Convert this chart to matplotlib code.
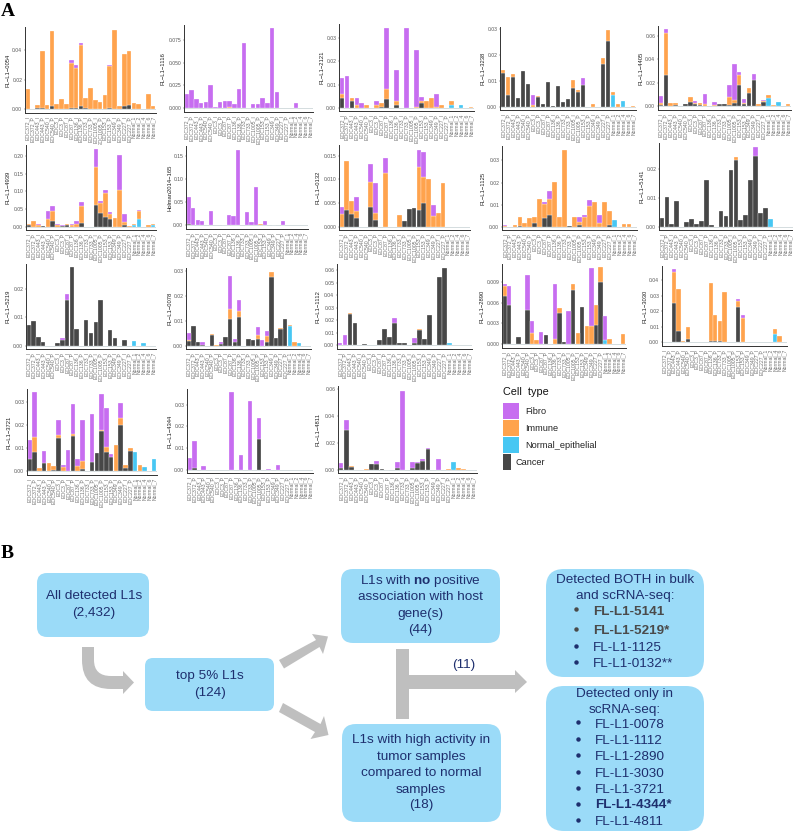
import matplotlib
matplotlib.use('Agg')
import matplotlib.pyplot as plt
import numpy as np
from matplotlib.patches import FancyBboxPatch, Polygon, PathPatch, Rectangle
from matplotlib.path import Path

plt.rcParams['font.family'] = ['Liberation Sans', 'DejaVu Sans']
plt.rcParams['mathtext.fontset'] = 'custom'
plt.rcParams['mathtext.bf'] = 'Liberation Sans:bold'
plt.rcParams['mathtext.rm'] = 'Liberation Sans'

W, H = 793, 833

# samples on every x axis
samples = ["EOC372_I", "EOC372_P", "EOC443_I", "EOC443_P", "EOC540_I", "EOC540_P", "EOC3_I", "EOC3_P",
           "EOC87_I", "EOC87_P", "EOC136_I", "EOC136_P", "EOC733_I", "EOC733_P", "EOC1005_I", "EOC1005_P",
           "EOC153_I", "EOC153_P", "EOC349_I", "EOC349_P", "EOC227_I", "EOC227_P",
           "Normal_1", "Normal_2", "Normal_4", "Normal_6", "Normal_7"]
cell_types = ["Fibro", "Immune", "Normal_epithelial", "Cancer"]
cell_colors = ["#C76DF0", "#FFA34D", "#47C7F3", "#474747"]

# segment heights, one list per L1 and cell type
cancer_0054 = [0, .0005, .001, .0007, 0, .002, 0, 0, 0, .0012, .0006, .0022, .0008, 0, 0, .0005, 0, .0009, 0, 0, .0021, .0028, 0, 0, 0, 0, 0]
immune_0054 = [.0135, 0, .002, .0386, .003, .0506, .0033, .0068, .0038, .0303, .0274, .0412, .0067, .0144, .0063, .0045, .0098, .0286, .0533, .0023, .0352, .0367, .0041, .0037, 0, .0103, .0019]
fibro_0054 = [0, 0, 0, 0, 0, 0, 0, 0, 0, .0015, .002, .0016, 0, 0, 0, 0, 0, .0005, 0, 0, 0, 0, 0, 0, 0, 0, 0]
normal_0054 = [0] * 27

cancer_1116 = [0] * 27
immune_1116 = [0, 0, 0, 0, 0, 0, 0, 0, 0, .001, 0, 0, 0, 0, 0, 0, 0, 0, 0, 0, 0, 0, 0, 0, 0, 0, 0]
fibro_1116 = [.0155, .02, .0095, .005, .007, .025, .001, .0065, .0078, .0063, .0047, .0215, .072, .0005, .0047, .0047, .0107, .0058, .088, .018, 0, 0, 0, .0058, 0, 0, 0]
normal_1116 = [0] * 27

cancer_2121 = [.0042, 0, .003, 0, 0, 0, 0, 0, .0007, .004, 0, .0016, 0, 0, 0, 0, .0023, 0, 0, 0, 0, 0, 0, 0, 0, 0, 0]
immune_2121 = [.0019, 0, .0012, .0012, 0, .0012, .0003, .0013, .0017, .0042, 0, .0016, 0, 0, 0, .0006, .0007, .003, .0044, .0005, .0013, 0, .0018, 0, 0, 0, .0004]
fibro_2121 = [.0068, .0136, 0, .003, .0021, 0, 0, .0019, 0, .0259, 0, .0129, 0, .034, 0, .0242, .0016, 0, 0, .0057, 0, 0, 0, 0, 0, 0, .0003]
normal_2121 = [0, 0, 0, 0, 0, 0, 0, 0, 0, 0, 0, 0, 0, 0, 0, 0, 0, 0, 0, 0, 0, 0, .0012, 0, .0013, 0, 0]

cancer_3238 = [.0133, .0048, .0117, .0036, .014, .0088, 0, .0039, .0012, .0098, .0003, .0082, .0018, .0031, .0073, .0058, .0085, 0, 0, 0, .0166, .0256, 0, 0, 0, 0, 0]
immune_3238 = [.0011, .0069, .001, 0, 0, 0, .0007, .0004, 0, 0, 0, 0, 0, 0, .0031, .0006, 0, 0, .001, 0, .0022, .004, .0011, .0012, 0, 0, .0005]
fibro_3238 = [0, 0, 0, 0, 0, 0, .0039, 0, 0, 0, 0, 0, 0, 0, 0, 0, .0027, 0, 0, 0, 0, 0, 0, 0, 0, 0, 0]
normal_3238 = [0, 0, 0, 0, 0, 0, 0, 0, 0, 0, 0, 0, 0, 0, 0, 0, 0, 0, 0, 0, 0, 0, .0046, 0, .0025, 0, 0]

cancer_4405 = [.001, .0263, 0, .001, 0, .002, .0037, .002, .001, 0, 0, 0, .0018, .0018, .001, .0028, .018, .0021, .0116, .0223, 0, .0034, 0, 0, 0, 0, 0]
immune_4405 = [.0018, .0362, .0025, .0016, 0, 0, .0039, .0005, .0015, .0017, 0, .0015, .0004, 0, .0066, .0028, .009, .0008, .0037, 0, .002, .0009, .0031, .001, 0, 0, .002]
fibro_4405 = [.0057, .0032, 0, 0, 0, 0, 0, .0018, 0, .0088, 0, .0025, 0, 0, .0102, .0304, .0022, .0033, 0, .0052, 0, .0009, 0, 0, 0, 0, 0]
normal_4405 = [0, 0, 0, 0, 0, 0, 0, 0, 0, 0, 0, 0, 0, 0, 0, 0, 0, 0, 0, 0, 0, 0, .0068, 0, .0035, 0, 0]

cancer_4939 = [.005, 0, 0, .001, 0, .016, 0, .001, .006, 0, 0, .01, 0, 0, .06, .04, .027, .021, 0, 0, .005, 0, 0, 0, 0, 0, 0]
immune_4939 = [.004, .015, .006, 0, .021, .029, .004, 0, .002, .005, .009, .049, 0, 0, .11, .028, .068, .015, .025, .104, .007, .002, .004, .023, 0, .006, .004]
fibro_4939 = [0, 0, .002, 0, .024, .014, .003, .004, 0, .002, .008, .011, 0, 0, .049, .004, .008, .006, 0, .098, .024, 0, 0, .004, 0, 0, 0]
normal_4939 = [0, 0, 0, 0, 0, 0, 0, 0, 0, 0, 0, 0, 0, 0, 0, 0, 0, 0, 0, 0, 0, 0, .004, .021, 0, 0, .004]

cancer_holman = [.003, 0, 0, 0, 0, 0, 0, 0, 0, 0, 0, 0, 0, 0, 0, 0, 0, 0, 0, 0, 0, 0, 0, 0, 0, 0, 0]
immune_holman = [0, 0, 0, 0, 0, 0, 0, 0, 0, 0, .001, .001, 0, 0, 0, 0, .003, 0, 0, 0, 0, .001, 0, 0, 0, 0, 0]
fibro_holman = [.059, .038, .012, .0095, 0, .0316, 0, 0, .001, .0215, .019, .1605, 0, .029, .0075, .082, 0, .01, 0, .001, 0, .009, 0, 0, 0, 0, 0]
normal_holman = [0] * 27

cancer_0132 = [0, .0036, .0027, .0018, 0, 0, .0041, .0014, 0, 0, 0, 0, 0, .0011, .0038, .0039, .0035, .005, 0, 0, 0, 0, 0, 0, 0, 0, 0]
immune_0132 = [.0027, .0102, .0027, .0016, 0, 0, .0053, .0016, 0, .0114, 0, 0, .0025, 0, 0, 0, .0092, .0054, .0101, .0023, .0029, .0092, 0, 0, 0, 0, 0]
fibro_0132 = [.0014, 0, 0, .0028, 0, 0, .0039, .0062, 0, .0032, 0, 0, 0, 0, 0, 0, .0036, .0054, 0, .0023, 0, 0, 0, 0, 0, 0, 0]
normal_0132 = [0] * 27

cancer_1125 = [0, 0, 0, .0005, 0, 0, .0018, 0, .0041, .0054, 0, 0, 0, .0005, 0, .0007, 0, 0, 0, 0, 0, .001, 0, 0, 0, 0, 0]
immune_1125 = [.0004, 0, .001, .0039, .002, .004, .0026, .0125, .0063, .0071, .0204, .0047, .0347, 0, .0045, .0015, .0046, .0095, .0111, .002, .0112, .006, 0, 0, .0013, .0013, 0]
fibro_1125 = [.0004, 0, 0, 0, 0, 0, 0, 0, .001, .0037, 0, 0, 0, 0, 0, .0023, .001, .0027, 0, .0036, 0, 0, 0, 0, 0, 0, 0]
normal_1125 = [0, 0, 0, 0, 0, 0, 0, 0, 0, 0, 0, 0, 0, 0, 0, 0, 0, 0, 0, 0, 0, 0, .0033, 0, 0, 0, 0]

cancer_5141 = [.0033, .0104, .0012, .009, 0, .0019, .003, .0012, .002, .0163, .0008, 0, .0055, .0037, .0195, .023, .0025, .0043, .0163, .0245, .005, .0065, 0, 0, 0, 0, 0]
immune_5141 = [0, 0, 0, 0, 0, 0, 0, 0, 0, 0, 0, 0, 0, 0, 0, .001, 0, 0, 0, 0, 0, 0, 0, 0, 0, 0, 0]
fibro_5141 = [0, 0, 0, 0, 0, 0, 0, 0, 0, 0, 0, 0, 0, 0, 0, 0, 0, 0, 0, .0029, 0, 0, 0, 0, 0, 0, 0]
normal_5141 = [0, 0, 0, 0, 0, 0, 0, 0, 0, 0, 0, 0, 0, 0, 0, 0, 0, 0, 0, 0, 0, 0, .0028, 0, 0, 0, 0]

cancer_5219 = [.0072, .0086, .0033, .0015, 0, 0, .0011, .002, .0159, .0275, .006, 0, .0091, .0044, .0085, .0159, 0, .0056, .0027, 0, .0022, 0, 0, 0, 0, 0, 0]
immune_5219 = [0] * 27
fibro_5219 = [0, 0, 0, 0, 0, 0, 0, .0009, .0022, 0, 0, 0, 0, 0, 0, 0, 0, 0, 0, 0, 0, 0, 0, 0, 0, 0, 0]
normal_5219 = [0, 0, 0, 0, 0, 0, 0, 0, 0, 0, 0, 0, 0, 0, 0, 0, 0, 0, 0, 0, 0, 0, .0018, 0, .0009, 0, 0]

cancer_0078 = [.0017, .0081, .0013, .0003, 0, .0041, 0, .0008, .0036, .0108, .0016, .0117, 0, .0028, .0021, .0026, 0, .0015, .0275, .0031, .0069, .0106, 0, 0, 0, 0, 0]
immune_0078 = [.0007, 0, 0, 0, 0, .0004, .0003, 0, 0, .0039, 0, .0021, 0, 0, 0, .0016, 0, .0025, .0022, 0, .0002, 0, .0002, .0014, 0, 0, 0]
fibro_0078 = [.0025, 0, 0, .0012, 0, 0, 0, .0005, 0, .0134, .0011, .0045, 0, 0, 0, .0032, .0023, .0018, 0, 0, 0, 0, 0, 0, 0, 0, 0]
normal_0078 = [0, 0, 0, 0, 0, 0, 0, 0, 0, 0, 0, 0, 0, 0, 0, 0, 0, 0, 0, 0, 0, 0, .008, 0, .0009, 0, 0]

cancer_1112 = [0, 0, .025, .0178, 0, .0014, 0, 0, .0041, .0127, .0067, .0182, .0021, .0021, 0, .0015, .012, .005, .0243, 0, .0545, .0619, 0, 0, 0, 0, 0]
immune_1112 = [0, 0, .0012, 0, 0, 0, 0, 0, 0, 0, 0, 0, 0, 0, 0, 0, .0013, 0, 0, 0, 0, 0, 0, 0, 0, 0, 0]
fibro_1112 = [.0015, .0083, 0, 0, 0, 0, 0, 0, 0, 0, 0, .0033, 0, 0, 0, .0047, 0, 0, 0, 0, 0, 0, 0, 0, 0, 0, 0]
normal_1112 = [0, 0, 0, 0, 0, 0, 0, 0, 0, 0, 0, 0, 0, 0, 0, 0, 0, 0, 0, 0, 0, 0, .002, 0, 0, 0, 0]

cancer_2890 = [.007, .0056, 0, .001, 0, .0049, 0, 0, 0, .0013, 0, 0, .0045, .0003, 0, .0078, 0, .0054, 0, 0, .0028, .009, 0, 0, 0, 0, 0]
immune_2890 = [.0014, 0, 0, 0, 0, 0, .0016, .0006, 0, 0, .0001, .0007, .0007, 0, 0, .0009, .0016, 0, .0026, .0027, .0029, .0021, 0, .0008, 0, 0, .0015]
fibro_2890 = [.0003, .0028, 0, 0, 0, .0051, .0018, 0, .0018, 0, 0, .0079, 0, 0, .0048, 0, 0, 0, 0, .0082, 0, 0, .0035, 0, 0, 0, 0]
normal_2890 = [0, 0, 0, 0, 0, 0, 0, 0, 0, 0, 0, 0, 0, 0, 0, 0, 0, 0, 0, 0, 0, 0, .0006, 0, 0, 0, 0]

cancer_3030 = [0, 0, .0256, .0075, 0, .0022, 0, 0, 0, 0, .001, .0008, .0008, .0003, 0, 0, .0228, 0, 0, 0, 0, 0, 0, 0, 0, 0, 0]
immune_3030 = [0, 0, .02, .0269, .001, .0077, 0, 0, 0, 0, .037, .0168, .013, .0322, 0, 0, .0039, .0155, 0, 0, 0, 0, 0, 0, .0032, .004, 0]
fibro_3030 = [0, 0, .0014, 0, 0, 0, 0, 0, 0, 0, 0, 0, 0, 0, 0, 0, .001, .0021, 0, 0, 0, 0, 0, 0, 0, 0, 0]
normal_3030 = [0, 0, 0, 0, 0, 0, 0, 0, 0, 0, 0, 0, 0, 0, 0, 0, 0, 0, 0, 0, 0, 0, 0, 0, .0054, 0, 0]

cancer_3721 = [.0052, .0084, 0, .0036, 0, .0005, .0143, 0, 0, .0153, 0, .0008, 0, .004, .0078, .0175, .0084, .0061, 0, .0202, .0015, .009, 0, 0, 0, 0, 0]
immune_3721 = [0, .0066, .0015, 0, .0034, .0018, .0013, .0018, 0, .0007, .0022, .0037, 0, 0, 0, .0005, .0023, 0, .0114, .0029, .0013, .0009, 0, .0028, 0, 0, 0]
fibro_3721 = [.0084, .0192, 0, .0053, 0, 0, .0066, .001, .0094, .0133, .0033, .0175, 0, .0208, 0, .0153, .0166, .0014, 0, .0066, 0, 0, 0, 0, 0, 0, 0]
normal_3721 = [0, 0, 0, 0, 0, 0, 0, 0, 0, 0, 0, 0, 0, 0, 0, 0, 0, 0, 0, 0, 0, 0, .0083, 0, .0018, 0, .0054]

cancer_4344 = [0, .0008, 0, 0, 0, 0, 0, 0, 0, 0, 0, 0, 0, 0, 0, .0142, 0, 0, 0, 0, 0, 0, 0, 0, 0, 0, 0]
immune_4344 = [0] * 27
fibro_4344 = [.0055, .0126, 0, .0018, 0, 0, 0, 0, 0, .0357, 0, .0069, 0, .0316, 0, .0096, 0, .0005, 0, .0022, 0, 0, 0, 0, 0, 0, 0]
normal_4344 = [0] * 27

cancer_4811 = [.0016, .03, .0025, 0, 0, 0, .0045, .0045, .0013, 0, 0, .0016, 0, 0, .0016, .0055, .0072, .0155, 0, 0, 0, 0, 0, 0, 0, 0, 0]
immune_4811 = [0, 0, .0004, .0003, .0003, .0006, 0, 0, 0, 0, 0, 0, 0, 0, 0, 0, 0, 0, 0, 0, 0, .0008, 0, .0014, .0008, 0, 0]
fibro_4811 = [.0037, .0068, 0, 0, 0, 0, 0, .002, 0, .0005, 0, .0047, .0585, 0, .0048, .0003, .0014, .0007, 0, .0083, 0, 0, 0, 0, 0, 0, 0]
normal_4811 = [0, 0, 0, 0, 0, 0, 0, 0, 0, 0, 0, 0, 0, 0, 0, 0, 0, 0, 0, 0, 0, 0, .0058, 0, 0, 0, 0]

l1_names = ["FL\u2212L1\u22120054", "FL\u2212L1\u22121116", "FL\u2212L1\u22122121", "FL\u2212L1\u22123238", "FL\u2212L1\u22124405",
            "FL\u2212L1\u22124939", "Holman2014\u2212165", "FL\u2212L1\u22120132", "FL\u2212L1\u22121125", "FL\u2212L1\u22125141",
            "FL\u2212L1\u22125219", "FL\u2212L1\u22120078", "FL\u2212L1\u22121112", "FL\u2212L1\u22122890", "FL\u2212L1\u22123030",
            "FL\u2212L1\u22123721", "FL\u2212L1\u22124344", "FL\u2212L1\u22124811"]
cancer_all = [cancer_0054, cancer_1116, cancer_2121, cancer_3238, cancer_4405, cancer_4939, cancer_holman, cancer_0132, cancer_1125,
              cancer_5141, cancer_5219, cancer_0078, cancer_1112, cancer_2890, cancer_3030, cancer_3721, cancer_4344, cancer_4811]
normal_all = [normal_0054, normal_1116, normal_2121, normal_3238, normal_4405, normal_4939, normal_holman, normal_0132, normal_1125,
              normal_5141, normal_5219, normal_0078, normal_1112, normal_2890, normal_3030, normal_3721, normal_4344, normal_4811]
immune_all = [immune_0054, immune_1116, immune_2121, immune_3238, immune_4405, immune_4939, immune_holman, immune_0132, immune_1125,
              immune_5141, immune_5219, immune_0078, immune_1112, immune_2890, immune_3030, immune_3721, immune_4344, immune_4811]
fibro_all = [fibro_0054, fibro_1116, fibro_2121, fibro_3238, fibro_4405, fibro_4939, fibro_holman, fibro_0132, fibro_1125,
             fibro_5141, fibro_5219, fibro_0078, fibro_1112, fibro_2890, fibro_3030, fibro_3721, fibro_4344, fibro_4811]
y_ticks = [[0, .02, .04], [0, .025, .05, .075], [0, .01, .02, .03], [0, .01, .02, .03], [0, .02, .04, .06],
           [0, .05, .1, .15, .2], [0, .05, .1, .15], [0, .005, .01, .015], [0, .01, .02, .03], [0, .01, .02],
           [0, .01, .02], [0, .01, .02, .03], [0, .01, .02, .03, .04, .05, .06], [0, .003, .006, .009], [0, .01, .02, .03, .04],
           [0, .01, .02, .03], [0, .01, .02, .03], [0, .02, .04, .06]]
y_decimals = [2, 3, 2, 2, 2, 2, 2, 3, 2, 2, 2, 2, 2, 3, 2, 2, 2, 2]

# panel boxes in pixels: left, right, top, bottom, pixel of y=0, pixel of the top tick, pixel of the y title
boxes = [(25, 156, 27, 113, 109.3, 50, 8), (184, 313, 25, 112, 108, 40, 163), (339, 474, 24, 111, 108.3, 37.7, 322),
         (500, 636, 27, 110, 107, 29.3, 483), (658, 791, 26, 110, 106.3, 35.7, 641),
         (26, 156, 145, 230, 226.7, 156, 8), (186, 308, 146, 229, 225.3, 155.7, 170), (339, 470, 145, 230, 226.7, 155.7, 318),
         (502, 637, 146, 230, 227, 160.3, 483), (659, 793, 143, 230, 227.3, 168.7, 642),
         (26, 156, 264, 349, 346, 288.7, 8), (186, 311, 268, 349, 345.7, 271, 170), (337, 472, 264, 349, 345.3, 270.3, 318),
         (502, 626, 264, 348, 344.3, 281.7, 482), (662, 787, 266, 346, 342.3, 280.3, 645),
         (27, 157, 389, 475, 471.3, 402, 9), (187, 313, 389, 473, 470, 404.7, 170), (338, 477, 386, 473, 470.3, 389, 318)]

fig = plt.figure(figsize=(W / 100, H / 100), dpi=100)
x = np.arange(len(samples))

for i, name in enumerate(l1_names):
    left, right, top, bottom, zero_px, tick_px, title_x = boxes[i]
    ax = fig.add_axes([left / W, 1 - bottom / H, (right - left) / W, (bottom - top) / H])
    per_px = y_ticks[i][-1] / (zero_px - tick_px)
    base = np.zeros(len(samples))
    stack = [cancer_all[i], normal_all[i], immune_all[i], fibro_all[i]]
    colors = [cell_colors[3], cell_colors[2], cell_colors[1], cell_colors[0]]
    ax.axhline(0, color='#d4dcdf', lw=0.7, zorder=1)
    for vals, col in zip(stack, colors):
        vals = np.array(vals, dtype=float)
        keep = vals > 0
        ax.bar(x[keep], vals[keep], bottom=base[keep], width=0.95, color=col, edgecolor='white', linewidth=0.2, zorder=2)
        base += vals
    ax.set_xlim(-0.6, len(samples) - 0.4)
    ax.set_ylim((zero_px - bottom) * per_px, (zero_px - top) * per_px)
    ax.set_xticks(x)
    ax.set_xticklabels(samples, rotation=90, fontsize=3.7, color='#707070')
    ax.set_yticks(y_ticks[i])
    ax.set_yticklabels([f"{t:.{y_decimals[i]}f}" for t in y_ticks[i]], fontsize=3.6, color='#555555')
    ax.tick_params(length=1, width=0.3, pad=1, color='#444444')
    for side in ['top', 'right']:
        ax.spines[side].set_visible(False)
    for side in ['left', 'bottom']:
        ax.spines[side].set_linewidth(0.7)
        ax.spines[side].set_color('#333333')
    fig.text(title_x / W, 1 - (top + bottom) / 2 / H, name, rotation=90, fontsize=4.2, color='#222222', ha='center', va='center')

# overlay in pixel coordinates for the legend and panel B
ov = fig.add_axes([0, 0, 1, 1], zorder=10)
ov.set_xlim(0, W)
ov.set_ylim(H, 0)
ov.axis('off')
ov.patch.set_alpha(0)

ov.text(1, 15.5, "A", fontsize=14, fontweight='bold', family='Liberation Serif', va='baseline')
ov.text(1, 558, "B", fontsize=14, fontweight='bold', family='Liberation Serif', va='baseline')

# legend
ov.text(503, 392, "Cell  type", fontsize=7.8, va='center', color='#111111')
for k, (lab, col) in enumerate(zip(cell_types, cell_colors)):
    y0 = 403 + k * 17
    w = 8 if lab == "Cancer" else 16
    ov.add_patch(Rectangle((503, y0), w, 16.3, facecolor=col, edgecolor='none'))
    ov.text(515 if lab == "Cancer" else 525, y0 + 8, lab, fontsize=6.6, va='center', color='#222222')

# panel B
box_col = "#9BDBF8"
navy = "#1E2F6E"
arrow_col = "#BFBFBF"
boxes_b = [(37, 573, 112, 64, 10), (145, 658, 129, 53, 8), (341, 569, 159, 74, 12),
           (342, 724, 159, 98, 14), (546, 569, 158, 108, 18), (546, 686, 158, 145, 18)]
for bx, by, bw, bh, r in boxes_b:
    ov.add_patch(FancyBboxPatch((bx + r, by + r), bw - 2 * r, bh - 2 * r, boxstyle=f"round,pad={r},rounding_size={r}",
                                facecolor=box_col, edgecolor='none'))

# bent arrow
bent = Path([(82, 647), (82, 660), (82, 689), (111, 689), (123, 689), (123, 694), (134, 682.5), (123, 671), (123, 676),
             (111, 676), (94, 676), (94, 660), (94, 647), (82, 647)],
            [Path.MOVETO, Path.LINETO, Path.CURVE3, Path.CURVE3, Path.LINETO, Path.LINETO, Path.LINETO, Path.LINETO, Path.LINETO,
             Path.LINETO, Path.CURVE3, Path.CURVE3, Path.LINETO, Path.CLOSEPOLY])
ov.add_patch(PathPatch(bent, facecolor=arrow_col, edgecolor='none'))
ov.add_patch(Polygon([(279, 660), (316, 640), (312, 634), (328, 636.5), (323, 654), (319.5, 647), (284, 668.5)],
                     facecolor=arrow_col, edgecolor='none'))
ov.add_patch(Polygon([(283, 703), (320.5, 724), (324, 716), (328.5, 735), (310.5, 739), (315, 732), (279, 712)],
                     facecolor=arrow_col, edgecolor='none'))
ov.add_patch(Polygon([(396, 649), (409, 649), (409, 675), (515, 675), (515, 670), (527, 682), (515, 693), (515, 689), (409, 689),
                      (409, 719), (396, 719)], facecolor=arrow_col, edgecolor='none'))
ov.text(464, 665, "(11)", fontsize=9.7, color=navy, ha='center', va='center')

box_fs = 9.7
ov.text(94, 596, "All detected L1s", fontsize=box_fs, color=navy, ha='center', va='center')
ov.text(94, 613, "(2,432)", fontsize=box_fs, color=navy, ha='center', va='center')
ov.text(210, 676, "top 5% L1s", fontsize=box_fs, color=navy, ha='center', va='center')
ov.text(210, 693, "(124)", fontsize=box_fs, color=navy, ha='center', va='center')

lines_up = ["L1s with $\\mathbf{no}$ positive", "association with host", "gene(s)", "(44)"]
for txt, yy in zip(lines_up, [581, 597, 614, 630]):
    ov.text(420, yy, txt, fontsize=box_fs, color=navy, ha='center', va='center')
lines_low = ["L1s with high activity in", "tumor samples", "compared to normal", "samples", "(18)"]
for txt, yy in zip(lines_low, [740, 757, 773, 790, 805]):
    ov.text(421, yy, txt, fontsize=box_fs, color=navy, ha='center', va='center')

ov.text(625, 580, "Detected BOTH in bulk", fontsize=box_fs, color=navy, ha='center', va='center')
ov.text(625, 596, "and scRNA-seq:", fontsize=box_fs, color=navy, ha='center', va='center')
both_l1 = ["FL-L1-5141", "FL-L1-5219*", "FL-L1-1125", "FL-L1-0132**"]
both_bold = [True, True, False, False]
for txt, bold, yy, by in zip(both_l1, both_bold, [612, 631, 648, 664], [609, 629, 646, 662]):
    col = '#4A4A4A' if bold else navy
    ov.text(593, yy, txt, fontsize=box_fs, color=col, va='center', fontweight='bold' if bold else 'normal')
    ov.plot([576], [by], 'o', ms=3.2, color=col, mew=0)

ov.text(625, 694, "Detected only in", fontsize=box_fs, color=navy, ha='center', va='center')
ov.text(625, 710, "scRNA-seq:", fontsize=box_fs, color=navy, ha='center', va='center')
only_l1 = ["FL-L1-0078", "FL-L1-1112", "FL-L1-2890", "FL-L1-3030", "FL-L1-3721", "FL-L1-4344*", "FL-L1-4811"]
for txt, yy, by in zip(only_l1, [725, 741, 757, 774, 790, 805, 822], [722, 739, 755, 772, 788, 804, 820]):
    bold = txt.endswith('*')
    ov.text(595, yy, txt, fontsize=box_fs, color=navy, va='center', fontweight='bold' if bold else 'normal')
    ov.plot([578], [by], 'o', ms=3.2, color=navy, mew=0)

ov.set_xlim(0, W)
ov.set_ylim(H, 0)
fig.savefig('out.png', dpi=100)
print('saved')
